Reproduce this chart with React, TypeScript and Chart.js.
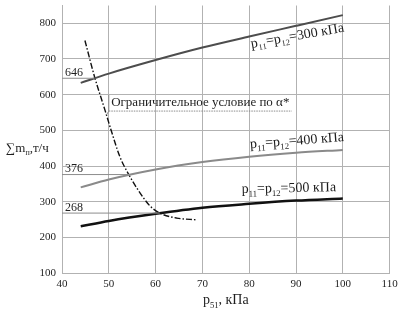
import React, { useEffect, useRef } from "react";
import { Chart, registerables } from "chart.js";

Chart.register(...registerables);

// ---- data ----
const xCurve = [44, 50, 60, 70, 80, 90, 100];
const y300 = [633, 659, 697, 732, 763, 793, 823];
const y400 = [340, 362, 390, 411, 426, 437, 445];
const y500 = [231, 246, 266, 283, 294, 303, 309];
const xLimit = [44.9, 47, 49.2, 50.5, 52.4, 54.4, 56.7, 58.8, 60.9, 64.5, 68.8];
const yLimit = [752, 648, 556, 500, 425, 373, 324, 288, 268, 254, 249];
const refValues = [646, 376, 268];
const refEndX = [46.9, 54.3, 60.9];
const curveLabels = ["300", "400", "500"];
const yTickMax = 800;

// ---- annotation placement (data coords) ----
const seriesLabelPos = [
  { x: 80.5, y: 731, angle: -10 },
  { x: 80.2, y: 450, angle: -4.3 },
  { x: 78.4, y: 324, angle: -1.2 },
];
const noteText = "Ограничительное условие по α*";
const notePos = { x: 50.5, y: 569 };
const noteLineY = 554;
const noteLineX = [50.0, 89.1];
const noteLeaderTopY = 599;
const noteTip = { x: 49.5, y: 543 };

const SERIF = '"Liberation Serif", "Times New Roman", serif';
const TEXT = "#1e1e1e";
const GRID = "#b2b2b2";

type Seg = { t: string; sub?: boolean };

function font(size: number) {
  return `${size}px ${SERIF}`;
}

function richWidth(ctx: CanvasRenderingContext2D, segs: Seg[], size: number) {
  let w = 0;
  for (const s of segs) {
    ctx.font = font(s.sub ? size * 0.62 : size);
    w += ctx.measureText(s.t).width;
  }
  return w;
}

function drawRich(
  ctx: CanvasRenderingContext2D,
  segs: Seg[],
  x: number,
  y: number,
  size: number,
  angle = 0,
  align: "left" | "center" = "left"
) {
  ctx.save();
  ctx.translate(x, y);
  ctx.rotate((angle * Math.PI) / 180);
  ctx.textBaseline = "alphabetic";
  ctx.textAlign = "left";
  ctx.fillStyle = TEXT;
  let cx = align === "center" ? -richWidth(ctx, segs, size) / 2 : 0;
  for (const s of segs) {
    const sz = s.sub ? size * 0.62 : size;
    ctx.font = font(sz);
    ctx.fillText(s.t, cx, s.sub ? size * 0.25 : 0);
    cx += ctx.measureText(s.t).width;
  }
  ctx.restore();
}

const textPlugin = {
  id: "texts",
  afterDatasetsDraw(chart: any) {
    const ctx: CanvasRenderingContext2D = chart.ctx;
    const xs = chart.scales.x;
    const ys = chart.scales.y;
    const area = chart.chartArea;

    // reference value labels
    ctx.save();
    ctx.font = font(12);
    ctx.fillStyle = TEXT;
    ctx.textBaseline = "alphabetic";
    refValues.forEach((v) => {
      ctx.fillText(String(v), area.left + 3, ys.getPixelForValue(v) - 2.5);
    });
    ctx.restore();

    // series labels
    curveLabels.forEach((lab, i) => {
      const p = seriesLabelPos[i];
      drawRich(
        ctx,
        [
          { t: "p" },
          { t: "11", sub: true },
          { t: "=p" },
          { t: "12", sub: true },
          { t: `=${lab} кПа` },
        ],
        xs.getPixelForValue(p.x),
        ys.getPixelForValue(p.y),
        14,
        p.angle
      );
    });

    // constraint note
    ctx.save();
    ctx.strokeStyle = "#8c8c8c";
    ctx.lineWidth = 1;
    const lx = xs.getPixelForValue(noteLineX[0]);
    const ly = ys.getPixelForValue(noteLineY);
    ctx.beginPath();
    ctx.moveTo(lx, ys.getPixelForValue(noteLeaderTopY));
    ctx.lineTo(lx, ly);
    ctx.lineTo(xs.getPixelForValue(noteTip.x), ys.getPixelForValue(noteTip.y));
    ctx.stroke();
    ctx.setLineDash([1.5, 1]);
    ctx.beginPath();
    ctx.moveTo(lx, ly);
    ctx.lineTo(xs.getPixelForValue(noteLineX[1]), ly);
    ctx.stroke();
    ctx.restore();
    drawRich(
      ctx,
      [{ t: noteText }],
      xs.getPixelForValue(notePos.x),
      ys.getPixelForValue(notePos.y),
      13
    );

    // axis titles
    drawRich(
      ctx,
      [{ t: "p" }, { t: "51", sub: true }, { t: ", кПа" }],
      (area.left + area.right) / 2,
      304,
      14,
      0,
      "center"
    );
    drawRich(
      ctx,
      [{ t: "∑m" }, { t: "п", sub: true }, { t: ",т/ч" }],
      6,
      152,
      13
    );
  },
};

function pts(xv: number[], yv: number[]) {
  return xv.map((x, i) => ({ x, y: yv[i] }));
}

export default function App() {
  const ref = useRef<HTMLCanvasElement | null>(null);

  useEffect(() => {
    document.body.style.margin = "0";
    if (!ref.current) return;

    const curve = (data: any, color: string, width: number) => ({
      data,
      borderColor: color,
      borderWidth: width,
      pointRadius: 0,
      fill: false,
      cubicInterpolationMode: "monotone" as const,
    });

    const datasets: any[] = [
      ...refValues.map((v, i) => ({
        data: [
          { x: 40, y: v },
          { x: refEndX[i], y: v },
        ],
        borderColor: "#8c8c8c",
        borderWidth: 1,
        pointRadius: 0,
        fill: false,
      })),
      curve(pts(xCurve, y300), "#4d4d4d", 2),
      curve(pts(xCurve, y400), "#8a8a8a", 2),
      curve(pts(xCurve, y500), "#111111", 2.5),
      {
        ...curve(pts(xLimit, yLimit), "#111111", 1.4),
        borderDash: [6, 2, 1.5, 2],
      },
    ];

    const chart = new Chart(ref.current, {
      type: "line",
      data: { datasets },
      options: {
        animation: false,
        responsive: false,
        devicePixelRatio: 1,
        layout: { padding: { top: 5.5, right: 11.4, left: 0, bottom: 0 } },
        plugins: { legend: { display: false }, tooltip: { enabled: false } },
        scales: {
          x: {
            type: "linear",
            min: 40,
            max: 110,
            ticks: {
              stepSize: 10,
              font: { family: SERIF, size: 11 },
              color: TEXT,
              padding: 5,
              maxRotation: 0,
            },
            grid: { color: GRID, drawTicks: false, lineWidth: 1 },
            border: { color: GRID },
            afterFit(s: any) {
              s.height = 41;
              s.paddingLeft = 0;
              s.paddingRight = 0;
            },
          },
          y: {
            type: "linear",
            min: 100,
            max: 850,
            ticks: {
              stepSize: 100,
              font: { family: SERIF, size: 11 },
              color: TEXT,
              padding: 6,
            },
            grid: { color: GRID, drawTicks: false, lineWidth: 1 },
            border: { color: GRID },
            afterBuildTicks(s: any) {
              s.ticks = s.ticks.filter((t: any) => t.value <= yTickMax);
            },
            afterFit(s: any) {
              s.width = 62;
              s.paddingTop = 0;
              s.paddingBottom = 0;
            },
          },
        },
      },
      plugins: [textPlugin],
    } as any);

    return () => chart.destroy();
  }, []);

  return (
    <div style={{ width: 401, height: 314, background: "#fff" }}>
      <canvas ref={ref} width={401} height={314} style={{ width: 401, height: 314, display: "block" }} />
    </div>
  );
}
